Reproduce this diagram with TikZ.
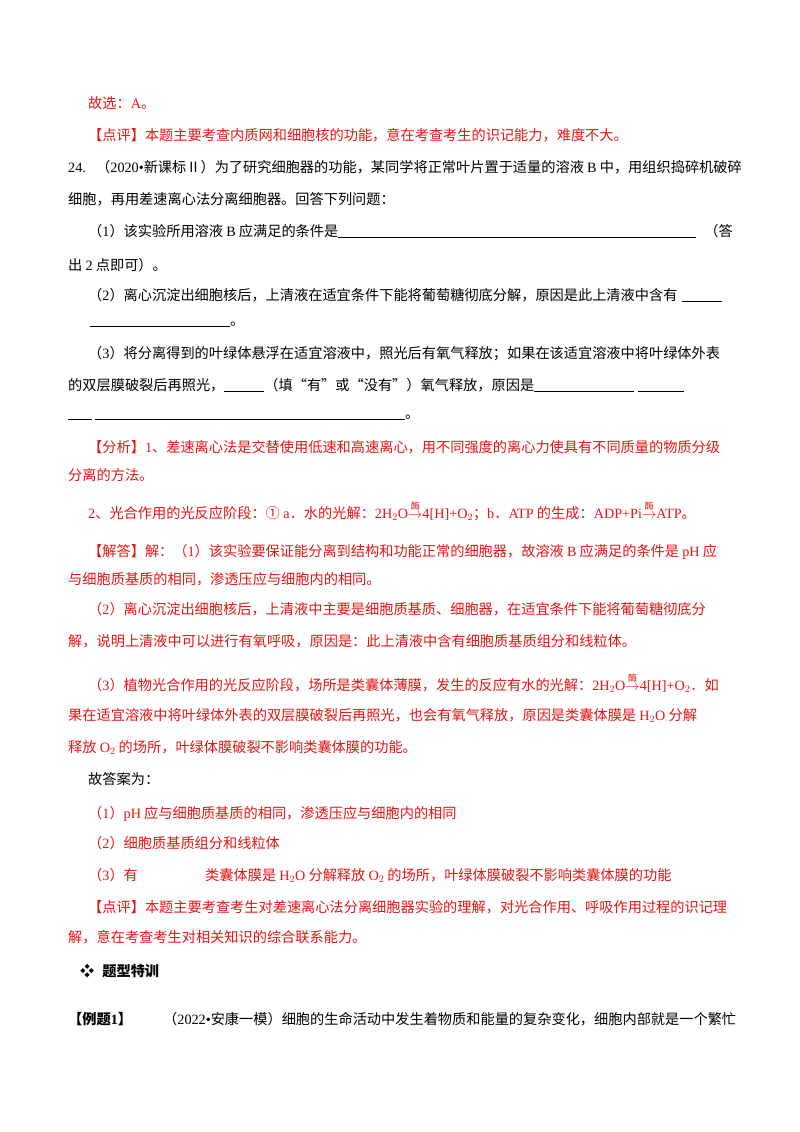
\documentclass[tikz,border=0pt]{standalone}
\usepackage{amsmath}
\usepackage{fontspec}
\setmainfont{Liberation Serif}
\newfontfamily\cjk{Noto Sans CJK SC}
\definecolor{rd}{RGB}{230,20,20}
\newcommand{\ul}[1]{\rule[-2pt]{#1pt}{0.7pt}}
\newcommand{\enz}{\ensuremath{\overset{\hbox{\cjk\fontsize{9}{9}\selectfont 酶}}{\rightarrow}}}
\newcommand{\R}[1]{{\rmfamily #1}}
\begin{document}
\begin{tikzpicture}[x=1pt,y=-1pt,
  t/.style={anchor=base west,inner sep=0pt,font=\cjk\fontsize{14.2}{15}\selectfont},
  r/.style={t,text=rd}]
\useasboundingbox (0,0) rectangle (800,1132);
\node[r] (l1) at (88,108) {故选：\R{A}。};
\node[r] (l2) at (88,140) {【点评】本题主要考查内质网和细胞核的功能，意在考查考生的识记能力，难度不大。};
\node[t] (l3a) at (68,172) {\R{24.}};
\node[t] (l3) at (96,172) {（\R{2020•}新课标Ⅱ）为了研究细胞器的功能，某同学将正常叶片置于适量的溶液 \R{B} 中，用组织捣碎机破碎};
\node[t] (l4) at (68,204) {细胞，再用差速离心法分离细胞器。回答下列问题：};
\node[t] (l5) at (88,236) {（\R{1}）该实验所用溶液 \R{B} 应满足的条件是\ul{358}\hspace{8pt}（答};
\node[t] (l6) at (68,270) {出 \R{2} 点即可）。};
\node[t] (l7) at (88,300) {（\R{2}）离心沉淀出细胞核后，上清液在适宜条件下能将葡萄糖彻底分解，原因是此上清液中含有\hspace{4pt}\ul{40}};
\node[t] (l8) at (90,325) {\ul{140}。};
\node[t] (l9) at (88,358) {（\R{3}）将分离得到的叶绿体悬浮在适宜溶液中，照光后有氧气释放；如果在该适宜溶液中将叶绿体外表};
\node[t] (l10) at (68,390) {的双层膜破裂后再照光，\ul{40}（填“有”或“没有”）氧气释放，原因是\ul{100}\hspace{4pt}\ul{46}};
\node[t] (l11) at (68,418) {\ul{24}\hspace{3pt}\ul{310}。};
\node[r] (l12) at (88,452) {【分析】\R{1}、差速离心法是交替使用低速和高速离心，用不同强度的离心力使具有不同质量的物质分级};
\node[r] (l13) at (68,480) {分离的方法。};
\node[r] (l14) at (88,518) {\R{2}、光合作用的光反应阶段：①\R{ a}．水的光解：\R{2H$_2$O\enz4[H]+O$_2$}；\R{b}．\R{ATP} 的生成：\R{ADP+Pi\enz ATP}。};
\node[r] (l15) at (88,556) {【解答】解：（\R{1}）该实验要保证能分离到结构和功能正常的细胞器，故溶液 \R{B} 应满足的条件是 \R{pH} 应};
\node[r] (l16) at (68,584) {与细胞质基质的相同，渗透压应与细胞内的相同。};
\node[r] (l17) at (88,614) {（\R{2}）离心沉淀出细胞核后，上清液中主要是细胞质基质、细胞器，在适宜条件下能将葡萄糖彻底分};
\node[r] (l18) at (68,646) {解，说明上清液中可以进行有氧呼吸，原因是：此上清液中含有细胞质基质组分和线粒体。};
\node[r] (l19) at (88,690) {（\R{3}）植物光合作用的光反应阶段，场所是类囊体薄膜，发生的反应有水的光解：\R{2H$_2$O\enz4[H]+O$_2$}．如};
\node[r] (l20) at (68,720) {果在适宜溶液中将叶绿体外表的双层膜破裂后再照光，也会有氧气释放，原因是类囊体膜是 \R{H$_2$O} 分解};
\node[r] (l21) at (68,752) {释放 \R{O$_2$} 的场所，叶绿体膜破裂不影响类囊体膜的功能。};
\node[t] (l22) at (88,784) {故答案为：};
\node[r] (l23) at (88,818) {（\R{1}）\R{pH} 应与细胞质基质的相同，渗透压应与细胞内的相同};
\node[r] (l24) at (88,848) {（\R{2}）细胞质基质组分和线粒体};
\node[r] (l25) at (88,880) {（\R{3}）有};
\node[r] (l25b) at (205,880) {类囊体膜是 \R{H$_2$O} 分解释放 \R{O$_2$} 的场所，叶绿体膜破裂不影响类囊体膜的功能};
\node[r] (l26) at (88,912) {【点评】本题主要考查考生对差速离心法分离细胞器实验的理解，对光合作用、呼吸作用过程的识记理};
\node[r] (l27) at (68,942) {解，意在考查考生对相关知识的综合联系能力。};
\node[t] (l28) at (80,976) {\textbf{❖}\hspace{8pt}{\bfseries 题型特训}};
\node[t,font=\cjk\fontsize{14.2}{15}\selectfont\bfseries] (l29) at (68,1024) {【例题\R{1}】};
\node[t] (l30) at (163,1024) {（\R{2022•}安康一模）细胞的生命活动中发生着物质和能量的复杂变化，细胞内部就是一个繁忙};
\end{tikzpicture}
\end{document}
